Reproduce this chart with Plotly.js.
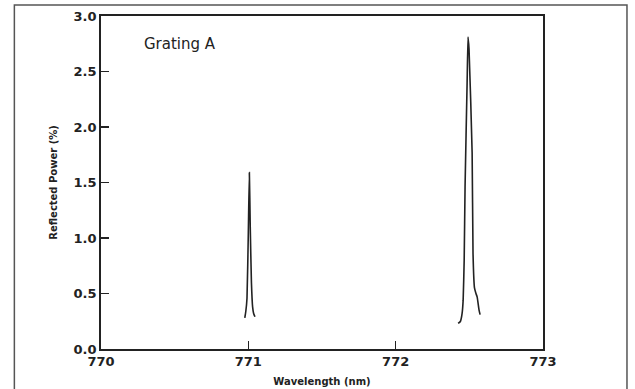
<!DOCTYPE html>
<html>
<head>
<meta charset="utf-8">
<script src="https://cdn.plot.ly/plotly-3.0.1.min.js"></script>
<style>html,body{margin:0;padding:0;background:#fff;}#chart{width:635px;height:389px;}</style>
</head>
<body>
<div id="chart"></div>
<script>
// Peak near 771 nm (wavelength nm, reflected power %)
const peak1Wavelength = [770.976, 770.983, 770.991, 771.000, 771.007, 771.013, 771.021, 771.029, 771.036, 771.045];
const peak1Power      = [0.28,    0.34,    0.46,    1.05,    1.59,    1.10,    0.60,    0.38,    0.32,    0.29];

// Peak near 772.5 nm
const peak2Wavelength = [772.424, 772.440, 772.451, 772.458, 772.465, 772.471, 772.485, 772.491, 772.498, 772.519, 772.525, 772.535, 772.545, 772.553, 772.566, 772.573];
const peak2Power      = [0.23,    0.25,    0.32,    0.44,    0.80,    1.46,    2.40,    2.81,    2.70,    1.77,    0.86,    0.55,    0.50,    0.47,    0.35,    0.31];

const xTickVals = [770, 771, 772, 773];
const xTickText = ['770', '771', '772', '773'];
const yTickVals = [0, 0.5, 1.0, 1.5, 2.0, 2.5, 3.0];
const yTickText = ['0.0', '0.5', '1.0', '1.5', '2.0', '2.5', '3.0'];

const ink = '#222';
const traces = [
  {x: peak1Wavelength, y: peak1Power, mode: 'lines', line: {color: ink, width: 1.6, shape: 'spline', smoothing: 0.4}, showlegend: false, hoverinfo: 'skip'},
  {x: peak2Wavelength, y: peak2Power, mode: 'lines', line: {color: ink, width: 1.6, shape: 'spline', smoothing: 0.4}, showlegend: false, hoverinfo: 'skip'}
];

const tickFont = {family: 'DejaVu Sans', size: 13, color: ink, weight: 'bold'};
const layout = {
  width: 635, height: 389,
  margin: {l: 101, r: 92, t: 16, b: 40, pad: 0},
  paper_bgcolor: '#fff', plot_bgcolor: '#fff',
  xaxis: {
    range: [770, 773], tickmode: 'array', tickvals: xTickVals, ticktext: xTickText,
    ticks: 'inside', ticklen: 8, tickwidth: 1.5, tickcolor: ink,
    showline: true, linecolor: ink, linewidth: 1.8, mirror: true,
    showgrid: false, zeroline: false, tickfont: tickFont,
    title: {text: 'Wavelength (nm)', font: {family: 'DejaVu Sans', size: 10, color: ink, weight: 'bold'}, standoff: 9}
  },
  yaxis: {
    range: [0, 3], tickmode: 'array', tickvals: yTickVals, ticktext: yTickText,
    ticks: 'inside', ticklen: 8, tickwidth: 1.5, tickcolor: ink,
    showline: true, linecolor: ink, linewidth: 1.8, mirror: true,
    showgrid: false, zeroline: false, tickfont: tickFont,
    title: {text: 'Reflected Power (%)', font: {family: 'DejaVu Sans', size: 10, color: ink, weight: 'bold'}, standoff: 14}
  },
  annotations: [{
    text: 'Grating A', xref: 'paper', yref: 'paper', x: 0.093, y: 0.915,
    xanchor: 'left', yanchor: 'middle', showarrow: false,
    font: {family: 'DejaVu Sans', size: 15, color: ink, weight: 500}
  }],
  shapes: [{
    type: 'rect', xref: 'paper', yref: 'paper',
    x0: -0.196, x1: 1.19, y0: -0.2, y1: 1.033,
    line: {color: '#555', width: 1.5}, fillcolor: 'rgba(0,0,0,0)', layer: 'below'
  }]
};

Plotly.newPlot('chart', traces, layout, {staticPlot: true, displayModeBar: false});
</script>
</body>
</html>
